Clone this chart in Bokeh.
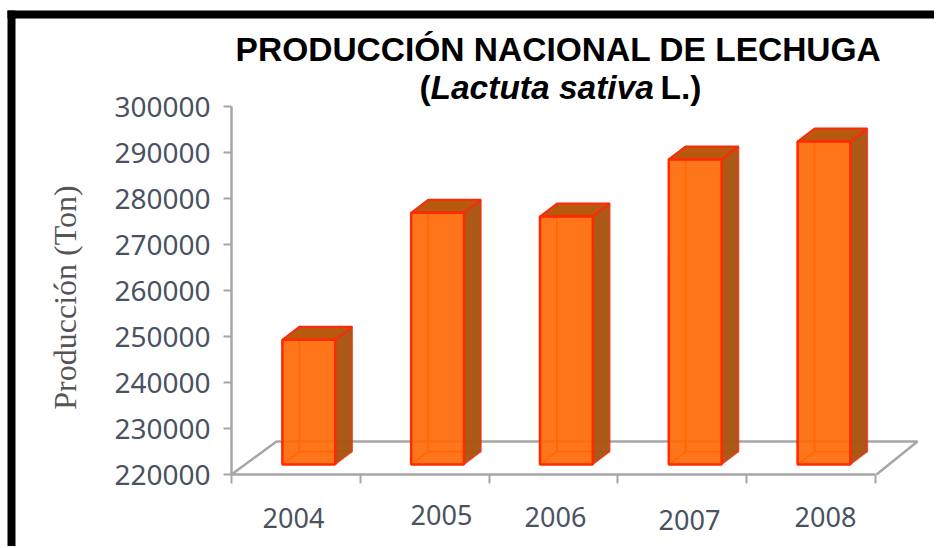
from math import pi
from bokeh.plotting import figure
from bokeh.models import Label, BoxAnnotation, FixedTicker, Range1d, LinearAxis
from bokeh.embed import file_html
from bokeh.resources import INLINE

years = ["2004", "2005", "2006", "2007", "2008"]
produccion = [249300, 276900, 276100, 288500, 292400]
y_ticks = [220000, 230000, 240000, 250000, 260000, 270000, 280000, 290000, 300000]
y_min, y_max = 220000, 300000

# picture-pixel geometry
W_PX, H_PX = 934, 546
OX, OY = 1, 1          # where the canvas starts in the picture
AL, AB, AT = 232, 475, 107
X_PX = 128.8
Y_PX = (AB - AT) / (y_max - y_min)
def dx(px): return (px - AL) / X_PX
def dy(py): return y_min + (AB - py) / Y_PX

p = figure(width=W_PX, height=H_PX, output_backend="svg", toolbar_location=None,
           x_range=Range1d(dx(OX), dx(OX + W_PX)), y_range=Range1d(dy(OY + H_PX), dy(OY)),
           min_border_left=0, min_border_right=0, min_border_top=0, min_border_bottom=0,
           x_axis_type=None, y_axis_type=None,
           background_fill_color="white", border_fill_color="white")
p.outline_line_color = None
p.grid.visible = False

AX = "#a6a6a6"
yax = LinearAxis(fixed_location=dx(AL), ticker=FixedTicker(ticks=y_ticks), bounds=(y_min, y_max))
yax.axis_line_color = AX
yax.axis_line_width = 2.5
yax.major_tick_line_color = AX
yax.major_tick_line_width = 2
yax.major_tick_in = 0
yax.major_tick_out = 8
yax.minor_tick_line_color = None
yax.major_label_text_font = "Noto Sans"
yax.major_label_text_font_size = "28px"
yax.major_label_text_color = "#4a5262"
yax.major_label_standoff = 13
yax.formatter.use_scientific = False
p.add_layout(yax, "left")

xax = LinearAxis(fixed_location=dy(AB), ticker=FixedTicker(ticks=[0, 1, 2, 3, 4, 5]), bounds=(0, 5))
xax.axis_line_color = AX
xax.axis_line_width = 2.5
xax.major_tick_line_color = AX
xax.major_tick_line_width = 2
xax.major_tick_in = 0
xax.major_tick_out = 9
xax.minor_tick_line_color = None
xax.major_label_text_color = None
xax.major_label_text_font_size = "1px"
p.add_layout(xax, "below")

# floor of the 3-D box
p.line([dx(232), dx(277), dx(918), dx(877)], [dy(475), dy(442), dy(442), dy(475)],
       line_color=AX, line_width=2.5)

# bars
centers = [i + 0.6 for i in range(len(years))]
W = 0.41
DX = 17 / X_PX
DY = 13 / Y_PX
base = dy(465)

# hidden rear edges, seen through the translucent front
for c, v in zip(centers, produccion):
    l = c - W / 2
    p.line([l, l + DX, l + DX], [base, base + DY, v + DY], line_color="#f25a12", line_width=2)
    p.line([l + DX, c + W / 2 + DX], [base + DY, base + DY], line_color="#f25a12", line_width=2)

side_x = [[c + W / 2, c + W / 2 + DX, c + W / 2 + DX, c + W / 2] for c in centers]
side_y = [[base, base + DY, v + DY, v] for v in produccion]
p.patches(side_x, side_y, fill_color="#a9530f", fill_alpha=0.97, line_color="#f5301a", line_width=1.5, line_alpha=0.8)

top_x = [[c - W / 2, c - W / 2 + DX, c + W / 2 + DX, c + W / 2] for c in centers]
top_y = [[v, v + DY, v + DY, v] for v in produccion]
p.patches(top_x, top_y, fill_color="#b8590e", line_color="#fb2a0c", line_width=2)

p.vbar(x=centers, width=W, bottom=base, top=produccion, fill_color="#ff6a08", fill_alpha=0.93,
       line_color="#ff2a00", line_width=2.5)

# x tick labels sit unevenly in the reference
label_px = [(294, 518), (442, 515), (556, 517), (690, 520), (826, 517)]
for t, (lx, ly) in zip(years, label_px):
    p.add_layout(Label(x=dx(lx), y=dy(ly), text=t, text_font="Noto Sans", text_font_size="27px",
                       text_color="#4a5262", text_align="center", text_baseline="middle"))

p.add_layout(Label(x=dx(65), y=dy(298), text="Producción (Ton)", angle=pi / 2,
                   text_font="Liberation Serif", text_font_size="32px", text_color="#555555",
                   text_align="center", text_baseline="middle"))

p.add_layout(Label(x=dx(559), y=dy(50), text="PRODUCCIÓN NACIONAL DE LECHUGA",
                   text_font="Liberation Sans", text_font_style="bold", text_font_size="33.5px",
                   text_color="black", text_align="center", text_baseline="middle"))
for t, st, lx in [("(", "bold", 420), ("Lactuta sativa", "bold italic", 431), ("L.)", "bold", 661)]:
    p.add_layout(Label(x=dx(lx), y=dy(88), text=t, text_font="Liberation Sans", text_font_style=st,
                       text_font_size="33.5px", text_color="black", text_align="left", text_baseline="middle"))

# black picture border (top and left)
p.add_layout(BoxAnnotation(left=dx(8), right=dx(940), top=dy(11), bottom=dy(19),
                           fill_color="black", fill_alpha=1, line_color=None))
p.add_layout(BoxAnnotation(left=dx(8), right=dx(16), top=dy(11), bottom=dy(560),
                           fill_color="black", fill_alpha=1, line_color=None))

open("out.html", "w").write(file_html(p, INLINE))
